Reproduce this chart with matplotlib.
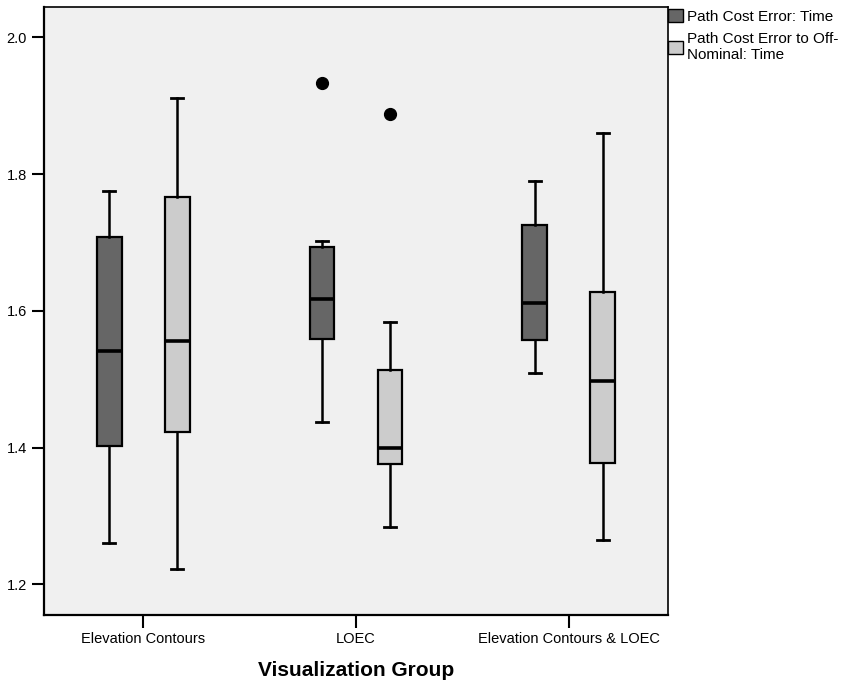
import matplotlib
matplotlib.use("Agg")
import matplotlib.pyplot as plt
from matplotlib.patches import Patch

plt.rcParams['font.family'] = ['Liberation Sans', 'DejaVu Sans']

categories = ["Elevation Contours", "LOEC", "Elevation Contours & LOEC"]
series_names = ["Path Cost Error: Time", "Path Cost Error to Off-\nNominal: Time"]
series_colors = ["#666666", "#cccccc"]

# per series: lists over categories
whislo = [[1.260, 1.438, 1.509], [1.222, 1.284, 1.265]]
q1     = [[1.402, 1.559, 1.557], [1.423, 1.376, 1.378]]
med    = [[1.542, 1.617, 1.612], [1.556, 1.400, 1.497]]
q3     = [[1.708, 1.694, 1.726], [1.766, 1.513, 1.628]]
whishi = [[1.776, 1.702, 1.790], [1.911, 1.584, 1.860]]
fliers = [[[], [1.933], []], [[], [1.888], []]]

yticks = [1.2, 1.4, 1.6, 1.8, 2.0]
ylim = (1.1546, 2.045)

fig = plt.figure(figsize=(8.43, 6.87), dpi=100)
ax = fig.add_axes([0.0518, 0.1044, 0.741, 0.8858])
ax.set_facecolor("#f0f0f0")

offset = 0.16
width = 0.117
for s in range(2):
    stats = []
    for c in range(len(categories)):
        stats.append(dict(whislo=whislo[s][c], q1=q1[s][c], med=med[s][c],
                          q3=q3[s][c], whishi=whishi[s][c], fliers=fliers[s][c]))
    pos = [c + (offset if s else -offset) for c in range(len(categories))]
    ax.bxp(stats, positions=pos, widths=width, patch_artist=True,
           showfliers=True, manage_ticks=False,
           boxprops=dict(facecolor=series_colors[s], edgecolor="black", linewidth=1.6),
           medianprops=dict(color="black", linewidth=2.6),
           whiskerprops=dict(color="black", linewidth=1.8),
           capprops=dict(color="black", linewidth=2.0),
           capwidths=0.056,
           flierprops=dict(marker="o", markerfacecolor="black", markeredgecolor="black",
                           markersize=8.5))

ax.set_xlim(-0.468, 2.468)
ax.set_ylim(*ylim)
ax.set_xticks(range(len(categories)))
ax.set_xticklabels(categories, fontsize=10.5)
ax.set_yticks(yticks)
ax.set_yticklabels([f"{v:.1f}" for v in yticks], fontsize=10.5)
ax.tick_params(axis="both", direction="out", length=9, width=1.5, pad=3)
for sp in ax.spines.values():
    sp.set_linewidth(1.2)
ax.spines["left"].set_linewidth(1.6)
ax.spines["bottom"].set_linewidth(1.6)

ax.set_xlabel("Visualization Group", fontsize=15, fontweight="bold", labelpad=11)

handles = [Patch(facecolor=series_colors[i], edgecolor="black", linewidth=1.0)
           for i in range(2)]
leg = ax.legend(handles, series_names, loc="upper left", bbox_to_anchor=(1.0, 0.997),
                frameon=False, fontsize=11, handlelength=0.95, handleheight=1.0,
                handletextpad=0.3, borderaxespad=0.0, borderpad=0.0,
                labelspacing=0.55)

fig.savefig("out.png", dpi=100, facecolor="white")
